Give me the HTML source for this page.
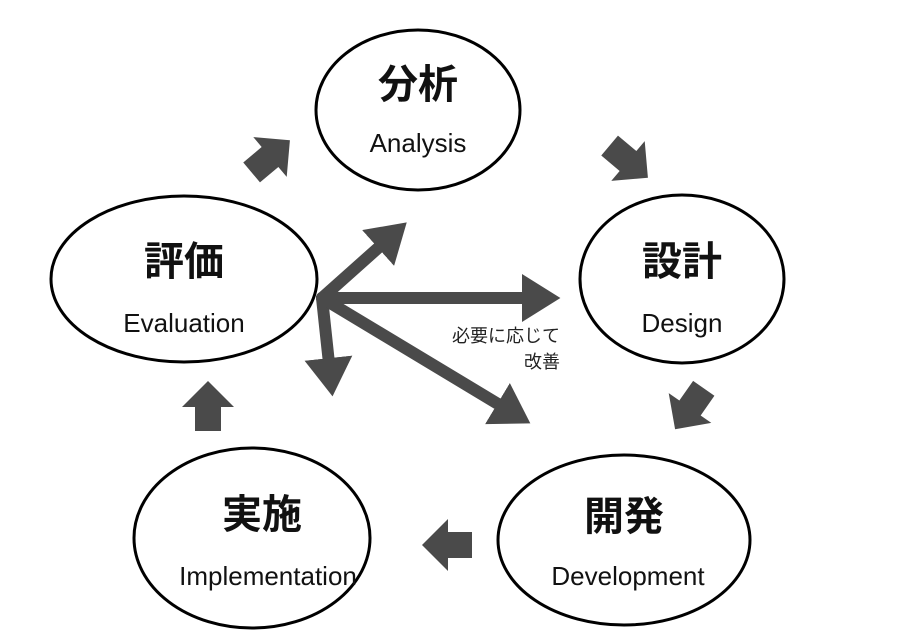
<!DOCTYPE html>
<html><head><meta charset="utf-8"><style>
body{margin:0;background:#fff;width:900px;height:639px;overflow:hidden}
svg{display:block}
.j{font-family:"Liberation Sans","Noto Sans CJK JP",sans-serif;font-weight:bold;font-size:40px;fill:#111;text-anchor:middle}
.e{font-family:"Liberation Sans","Noto Sans CJK JP",sans-serif;font-size:26px;fill:#111;text-anchor:middle}
.s{font-family:"Liberation Sans","Noto Sans CJK JP",sans-serif;font-size:18px;fill:#222;text-anchor:end}
</style></head><body>
<svg width="900" height="639" viewBox="0 0 900 639">
<defs>
<path id="ba" d="M-24,-13 L0,-13 L0,-26 L26,0 L0,26 L0,13 L-24,13 Z" fill="#4a4a4a"/>
<marker id="ah" markerWidth="4" markerHeight="4" refX="2" refY="2" orient="auto" markerUnits="strokeWidth"><path d="M0,0 L3.2,2 L0,4 Z" fill="#4a4a4a"/></marker>
</defs>
<g fill="none" stroke="#000" stroke-width="3">
<ellipse cx="418" cy="110" rx="102" ry="80"/>
<ellipse cx="682" cy="279" rx="102" ry="84"/>
<ellipse cx="184" cy="279" rx="133" ry="83"/>
<ellipse cx="624" cy="540" rx="126" ry="85"/>
<ellipse cx="252" cy="538" rx="118" ry="90"/>
</g>
<text class="j" x="418" y="98">分析</text><text class="e" x="418" y="152">Analysis</text>
<text class="j" x="682" y="275">設計</text><text class="e" x="682" y="332">Design</text>
<text class="j" x="184" y="275">評価</text><text class="e" x="184" y="332">Evaluation</text>
<text class="j" x="624" y="530">開発</text><text class="e" x="628" y="585">Development</text>
<text class="j" x="262" y="528">実施</text><text class="e" x="268" y="585">Implementation</text>
<g stroke="#4a4a4a" stroke-width="12" fill="none" stroke-linecap="round" marker-end="url(#ah)">
<line x1="322" y1="298" x2="396" y2="232"/>
<line x1="322" y1="298" x2="546" y2="298"/>
<line x1="322" y1="298" x2="331" y2="382"/>
<line x1="322" y1="298" x2="518" y2="416"/>
</g>
<text class="s" x="560" y="342">必要に応じて</text>
<text class="s" x="560" y="368">改善</text>
<use href="#ba" transform="translate(270,157) rotate(-40)"/>
<use href="#ba" transform="translate(628,161) rotate(40)"/>
<use href="#ba" transform="translate(690,408) rotate(125)"/>
<use href="#ba" transform="translate(448,545) rotate(180)"/>
<use href="#ba" transform="translate(208,407) rotate(-90)"/>
</svg>
</body></html>
